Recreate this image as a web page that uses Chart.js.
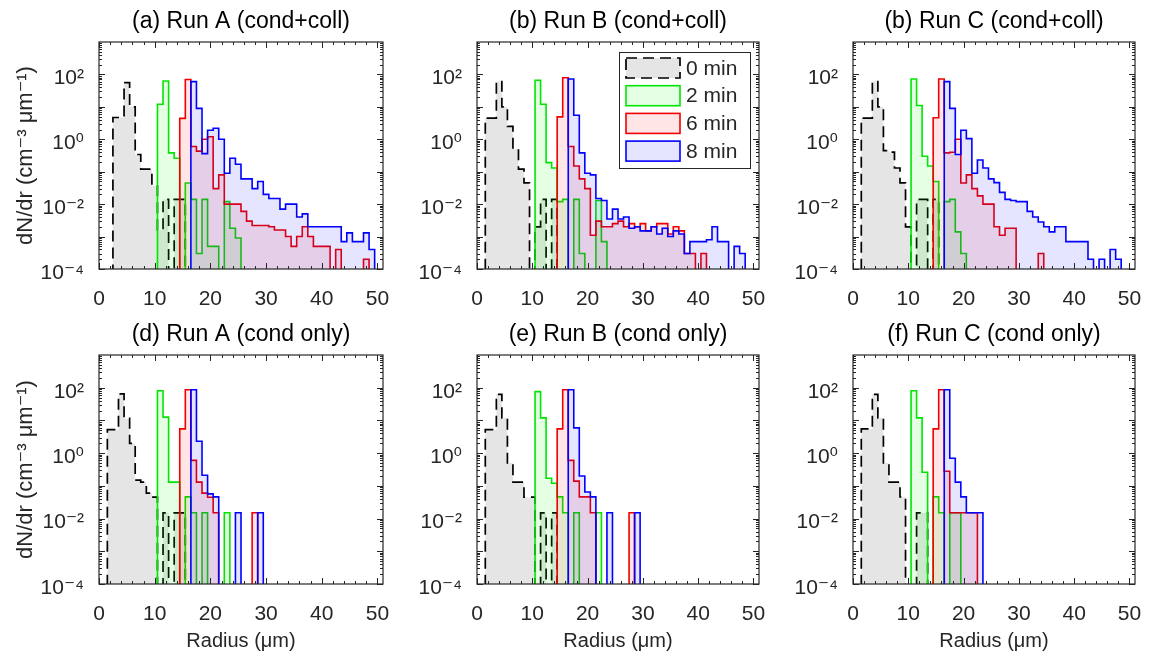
<!DOCTYPE html>
<html lang="en">
<head>
  <meta charset="UTF-8">
  <title>Droplet size distributions</title>
  <script src="https://cdn.jsdelivr.net/npm/chart.js"></script>
  <style>
    body { margin: 0; background: #fff; }
    #page { position: relative; width: 1150px; height: 653px; overflow: hidden; }
    canvas { position: absolute; }
  </style>
</head>
<body>
  <div id="page"></div>

  <script>
    // bin centres in µm (bins are 1 µm wide)
    const radius = [1, 2, 3, 4, 5, 6, 7, 8, 9, 10, 11, 12, 13, 14, 15, 16, 17, 18, 19, 20,
                    21, 22, 23, 24, 25, 26, 27, 28, 29, 30, 31, 32, 33, 34, 35, 36, 37, 38, 39, 40,
                    41, 42, 43, 44, 45, 46, 47, 48, 49, 50];
    const binWidth = 1;
    const timeLabels = ['0 min', '2 min', '6 min', '8 min'];
    const xTicks = [0, 10, 20, 30, 40, 50];
    const yTicks = [1e-4, 1e-2, 1, 1e2];
    const yTickLabels = ['10⁻⁴', '10⁻²', '10⁰', '10²'];
    const panelTitles = ['(a) Run A (cond+coll)', '(b) Run B (cond+coll)', '(b) Run C (cond+coll)',
                         '(d) Run A (cond only)', '(e) Run B (cond only)', '(f) Run C (cond only)'];

    // dN/dr (cm-3 um-1) per bin, starting at radius[0]; bins past the end of a list are empty
    // Run A, condensation + collision
    const runA_cc_t0 = [0, 0, 4.7, 4.7, 56, 10, 0.34, 0.12, 0.12, 0.036, 0.0016, 0.014, 0, 0.014, 0.014];
    const runA_cc_t2 = [0, 0, 0, 0, 0, 0, 0, 0, 0, 0, 12, 63, 0.38, 0.26, 0, 0.045, 0.014, 0.0003, 0.014, 0.0005,
                        0.0005, 0, 0.012, 0.0018, 0.0009];
    const runA_cc_t6 = [0, 0, 0, 0, 0, 0, 0, 0, 0, 0, 0, 0, 0, 0, 4.4, 70, 0.6, 0.43, 1.0, 1.2,
                        0.03, 0.08, 0.01, 0.01, 0.01, 0.006, 0.003, 0.0022, 0.0022, 0.0022,
                        0.002, 0.0016, 0.0016, 0.001, 0.0005, 0.001, 0.002, 0.001, 0.0005, 0.0005,
                        0.0005, 0, 0.0004, 0, 0, 0, 0, 0.0002];
    const runA_cc_t8 = [0, 0, 0, 0, 0, 0, 0, 0, 0, 0, 0, 0, 0, 0, 0, 0, 60, 9, 0.36, 1.9,
                        2.2, 1.0, 0.09, 0.26, 0.17, 0.06, 0.06, 0.03, 0.05, 0.02,
                        0.015, 0.015, 0.007, 0.01, 0.01, 0.004, 0.005, 0.002, 0.002, 0.002,
                        0.002, 0.002, 0.002, 0.0007, 0.0013, 0.0007, 0.0007, 0.0013, 0.0004];
    // Run B, condensation + collision
    const runB_cc_t0 = [0, 4.5, 4.5, 60, 10, 2.5, 0.5, 0.12, 0.045, 0, 0.002, 0.014, 0, 0.014];
    const runB_cc_t2 = [0, 0, 0, 0, 0, 0, 0, 0, 0, 0, 66, 12, 0.19, 0.13, 0.012, 0.014, 0, 0.014, 0.0003, 0,
                        0, 0.013, 0.0007];
    const runB_cc_t6 = [0, 0, 0, 0, 0, 0, 0, 0, 0, 0, 0, 0, 0, 0, 4.9, 79, 0.6, 0.15, 0.06, 0.03,
                        0.0011, 0.003, 0.002, 0.002, 0.0025, 0.003, 0.002, 0.0025, 0.002, 0.0025,
                        0.0015, 0.002, 0.0025, 0.0025, 0.0012, 0.002, 0.0015, 0.0003, 0.0003, 0,
                        0.0003];
    const runB_cc_t8 = [0, 0, 0, 0, 0, 0, 0, 0, 0, 0, 0, 0, 0, 0, 0, 0, 72, 5.5, 0.38, 0.09,
                        0.08, 0.015, 0.013, 0.0035, 0.007, 0.0035, 0.004, 0.0018, 0.002, 0.0015,
                        0.0015, 0.002, 0.0012, 0.0018, 0.001, 0.0015, 0.0012, 0.0003, 0.0007, 0.0007,
                        0.0007, 0.0008, 0.002, 0.0007, 0.0007, 0, 0.0005, 0.0003];
    // Run C, condensation + collision
    const runC_cc_t0 = [0, 4.5, 4.5, 60, 10, 0.45, 0.4, 0.13, 0.045, 0.002, 0, 0.014, 0.014, 0, 0.014];
    const runC_cc_t2 = [0, 0, 0, 0, 0, 0, 0, 0, 0, 0, 72, 11, 0.3, 0.15, 0.05, 0, 0.012, 0.014, 0.0014, 0.0003];
    const runC_cc_t6 = [0, 0, 0, 0, 0, 0, 0, 0, 0, 0, 0, 0, 0, 0, 4.6, 72, 0.38, 0.4, 1.0, 0.045,
                        0.08, 0.03, 0.018, 0.01, 0.01, 0.002, 0.0011, 0.0018, 0.0018, 0,
                        0, 0, 0, 0.0003];
    const runC_cc_t8 = [0, 0, 0, 0, 0, 0, 0, 0, 0, 0, 0, 0, 0, 0, 0, 0, 60, 9, 0.34, 1.9,
                        1.05, 0.09, 0.23, 0.13, 0.06, 0.046, 0.023, 0.014, 0.013, 0.012,
                        0.012, 0.006, 0.004, 0.0028, 0.002, 0.0014, 0.002, 0.002, 0.0007, 0.0007,
                        0.0007, 0.0007, 0.0002, 0, 0.0002, 0, 0.0004, 0.0002];
    // Run A, condensation only
    const runA_co_t0 = [0, 5.2, 5.2, 65, 11.5, 2, 0.15, 0.13, 0.06, 0.045, 0, 0.015, 0, 0.015, 0.015];
    const runA_co_t2 = [0, 0, 0, 0, 0, 0, 0, 0, 0, 0, 81, 12.6, 0.13, 0.13, 0, 0.046, 0.015, 0, 0.015, 0,
                        0, 0, 0.015];
    const runA_co_t6 = [0, 0, 0, 0, 0, 0, 0, 0, 0, 0, 0, 0, 0, 0, 5.5, 87, 0.6, 0.13, 0.06, 0.045,
                        0.015, 0, 0, 0, 0, 0, 0, 0.015];
    const runA_co_t8 = [0, 0, 0, 0, 0, 0, 0, 0, 0, 0, 0, 0, 0, 0, 0, 0, 87, 2.3, 0.21, 0.057,
                        0.046, 0, 0, 0, 0.015, 0, 0, 0, 0.015];
    // Run B, condensation only
    const runB_co_t0 = [0, 5.2, 5.2, 63, 12, 0.5, 0.13, 0.13, 0.045, 0.045, 0, 0.015, 0, 0.015];
    const runB_co_t2 = [0, 0, 0, 0, 0, 0, 0, 0, 0, 0, 76, 12, 0.17, 0.12, 0.046, 0.015, 0, 0.015, 0, 0,
                        0, 0.015];
    const runB_co_t6 = [0, 0, 0, 0, 0, 0, 0, 0, 0, 0, 0, 0, 0, 0, 5.5, 87, 0.6, 0.14, 0.046, 0.046,
                        0.015, 0, 0, 0, 0, 0, 0, 0.015];
    const runB_co_t8 = [0, 0, 0, 0, 0, 0, 0, 0, 0, 0, 0, 0, 0, 0, 0, 0, 87, 5.9, 0.2, 0.065,
                        0.046, 0, 0, 0.015, 0, 0, 0, 0, 0.015];
    // Run C, condensation only
    const runC_co_t0 = [0, 5.5, 5.5, 63, 12, 0.5, 0.13, 0.13, 0.046, 0, 0, 0.015, 0.015];
    const runC_co_t2 = [0, 0, 0, 0, 0, 0, 0, 0, 0, 0, 81, 12, 0.26, 0, 0.046, 0.015, 0, 0.015, 0.015];
    const runC_co_t6 = [0, 0, 0, 0, 0, 0, 0, 0, 0, 0, 0, 0, 0, 0, 5.5, 87, 0.28, 0.015, 0.015, 0.015,
                        0.015, 0.015];
    const runC_co_t8 = [0, 0, 0, 0, 0, 0, 0, 0, 0, 0, 0, 0, 0, 0, 0, 0, 87, 0.7, 0.13, 0.046,
                        0.015, 0.015, 0.015];

    const panelSeries = [
      [runA_cc_t0, runA_cc_t2, runA_cc_t6, runA_cc_t8],
      [runB_cc_t0, runB_cc_t2, runB_cc_t6, runB_cc_t8],
      [runC_cc_t0, runC_cc_t2, runC_cc_t6, runC_cc_t8],
      [runA_co_t0, runA_co_t2, runA_co_t6, runA_co_t8],
      [runB_co_t0, runB_co_t2, runB_co_t6, runB_co_t8],
      [runC_co_t0, runC_co_t2, runC_co_t6, runC_co_t8]
    ];

    const seriesStyle = [
      { line: '#000000', fill: 'rgba(0, 0, 0, 0.1)', dash: [11, 6], width: 1.7 },
      { line: '#00e600', fill: 'rgba(0, 255, 0, 0.1)', dash: [], width: 1.6 },
      { line: '#f00000', fill: 'rgba(255, 0, 0, 0.1)', dash: [], width: 1.6 },
      { line: '#0000ff', fill: 'rgba(0, 0, 255, 0.1)', dash: [], width: 1.6 }
    ];

    Chart.defaults.font.family = "'Liberation Sans', 'DejaVu Sans', sans-serif";
    Chart.defaults.color = '#262626';

    const EMPTY = 1e-7;  // empty bins sit below the axis floor

    // left-edge points for a stepped line, closed down to the floor after the last bin
    const stepPoints = (values) => {
      const pts = values.map((v, i) => ({ x: radius[i] - binWidth / 2, y: v > 0 ? v : EMPTY }));
      pts.push({ x: radius[values.length - 1] + binWidth / 2, y: EMPTY });
      return pts;
    };

    // axes box with inward ticks on all four sides
    const frame = {
      id: 'frame',
      afterDatasetsDraw(chart) {
        const { ctx, chartArea: a, scales: { x, y } } = chart;
        ctx.save();
        ctx.strokeStyle = '#262626';
        ctx.lineWidth = 1;
        ctx.beginPath();
        for (let v = 0; v <= x.max; v += 2) {
          const px = Math.round(x.getPixelForValue(v)) + 0.5;
          const len = v % 10 === 0 ? 6 : 3;
          ctx.moveTo(px, a.bottom); ctx.lineTo(px, a.bottom - len);
          ctx.moveTo(px, a.top); ctx.lineTo(px, a.top + len);
        }
        for (let e = -4; e < 3; e++) {
          for (let m = 1; m < 10; m++) {
            const py = Math.round(y.getPixelForValue(m * Math.pow(10, e))) + 0.5;
            const len = m === 1 ? 6 : 3;
            ctx.moveTo(a.left, py); ctx.lineTo(a.left + len, py);
            ctx.moveTo(a.right, py); ctx.lineTo(a.right - len, py);
          }
        }
        ctx.stroke();
        ctx.lineWidth = 1.2;
        ctx.strokeRect(a.left, a.top, a.width, a.height);
        ctx.restore();
      }
    };

    // boxed legend inside the top-right of a panel
    const panelLegend = {
      id: 'panelLegend',
      afterDraw(chart, args, opts) {
        if (!opts.show) return;
        const { ctx, chartArea: a } = chart;
        const w = 131, h = 116;
        const left = a.right - 9 - w, top = a.top + 10;
        ctx.save();
        ctx.fillStyle = '#ffffff';
        ctx.fillRect(left, top, w, h);
        ctx.strokeStyle = '#262626';
        ctx.lineWidth = 1;
        ctx.strokeRect(left + 0.5, top + 0.5, w, h);
        ctx.font = "21px 'Liberation Sans', 'DejaVu Sans', sans-serif";
        ctx.textBaseline = 'middle';
        chart.data.datasets.forEach((ds, i) => {
          const cy = top + 16 + i * 27.7;
          ctx.fillStyle = ds.backgroundColor;
          ctx.fillRect(left + 7, cy - 10, 54, 20);
          ctx.setLineDash(ds.borderDash);
          ctx.strokeStyle = ds.borderColor;
          ctx.lineWidth = ds.borderWidth;
          ctx.strokeRect(left + 7, cy - 10, 54, 20);
          ctx.setLineDash([]);
          ctx.fillStyle = '#262626';
          ctx.fillText(ds.label, left + 67, cy + 1);
        });
        ctx.restore();
      }
    };

    const page = document.getElementById('page');
    const colLeft = [99, 477, 853];
    const colWidth = [284, 282, 282];
    const rightGap = 20;
    const rowTop = [0, 315];
    const rowHeight = [310, 338];
    const rowTitleBox = [42, 40];
    const rowAxisBox = [41, 69];

    panelSeries.forEach((series, p) => {
      const col = p % 3, row = Math.floor(p / 3);
      const yAxisW = col === 0 ? 99 : 70;
      const canvas = document.createElement('canvas');
      canvas.width = yAxisW + colWidth[col] + rightGap;
      canvas.height = rowHeight[row];
      canvas.style.left = (colLeft[col] - yAxisW) + 'px';
      canvas.style.top = rowTop[row] + 'px';
      page.appendChild(canvas);

      const titlePadTop = row === 0 ? 8 : 6;

      new Chart(canvas, {
        type: 'line',
        data: {
          datasets: series.map((vals, i) => ({
            label: timeLabels[i],
            data: stepPoints(vals),
            stepped: true,
            fill: 'start',
            borderColor: seriesStyle[i].line,
            backgroundColor: seriesStyle[i].fill,
            borderDash: seriesStyle[i].dash,
            borderWidth: seriesStyle[i].width,
            pointRadius: 0,
            order: 4 - i
          }))
        },
        options: {
          responsive: false,
          animation: false,
          devicePixelRatio: 1,
          events: [],
          layout: { padding: { left: 0, right: rightGap, top: 0, bottom: 0 } },
          plugins: {
            legend: { display: false },
            tooltip: { enabled: false },
            title: {
              display: true,
              fullSize: false,
              text: panelTitles[p],
              color: '#000000',
              font: { size: 23, weight: 'normal' },
              padding: { top: titlePadTop, bottom: rowTitleBox[row] - titlePadTop - 27.6 }
            },
            panelLegend: { show: p === 1 }
          },
          scales: {
            x: {
              type: 'linear',
              min: 0,
              max: 51,
              grid: { display: false },
              border: { display: false },
              afterBuildTicks: (s) => { s.ticks = xTicks.map(v => ({ value: v })); },
              afterFit: (s) => { s.height = rowAxisBox[row]; },
              ticks: { font: { size: 21 }, padding: 10, maxRotation: 0, autoSkip: false },
              title: {
                display: row === 1,
                text: 'Radius (μm)',
                font: { size: 20 },
                padding: { top: 0, bottom: 0 }
              }
            },
            y: {
              type: 'logarithmic',
              min: 1e-4,
              max: 1e3,
              grid: { display: false },
              border: { display: false },
              afterBuildTicks: (s) => { s.ticks = yTicks.map(v => ({ value: v })); },
              afterFit: (s) => { s.width = yAxisW; },
              ticks: {
                font: { size: 21 },
                padding: 7,
                labelOffset: 4,
                autoSkip: false,
                callback: (v) => { const k = yTicks.indexOf(v); return k >= 0 ? yTickLabels[k] : ''; }
              },
              title: {
                display: col === 0,
                text: 'dN/dr (cm⁻³ μm⁻¹)',
                font: { size: 22 },
                padding: { top: 13, bottom: 0 }
              }
            }
          }
        },
        plugins: [frame, panelLegend]
      });
    });
  </script>
</body>
</html>
